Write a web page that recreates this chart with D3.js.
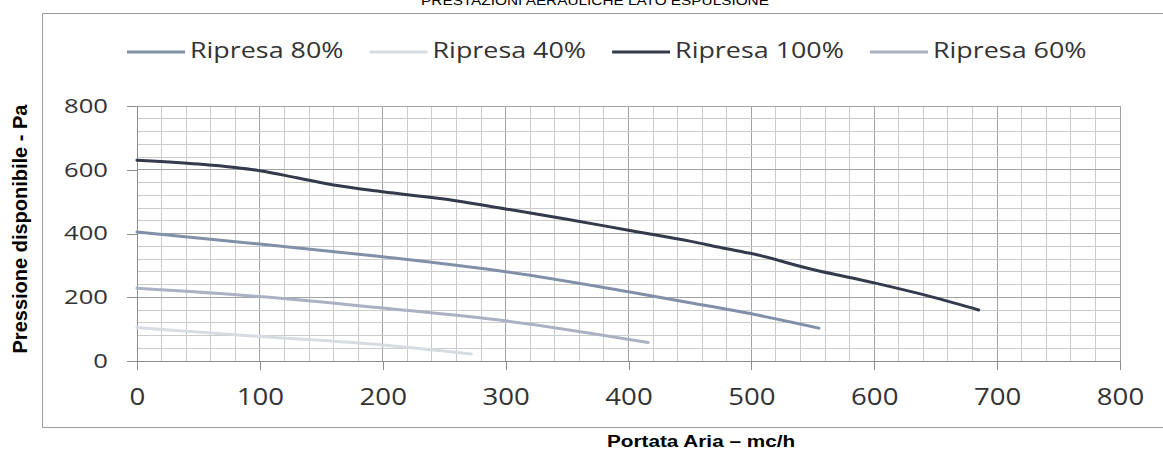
<!DOCTYPE html>
<html>
<head>
<meta charset="utf-8">
<script src="https://cdn.jsdelivr.net/npm/d3@7"></script>
<style>
  body { margin: 0; background: #fff; }
  svg { display: block; }
</style>
</head>
<body>
<svg id="chart"></svg>
<script>
// portata (mc/h) e pressione (Pa)
const flow100 = [0, 50, 80, 100, 130, 160, 200, 250, 300, 350, 400, 450, 480, 500, 550, 600, 650, 685];
const press100 = [630, 618, 607, 597, 575, 552, 531, 508, 477, 445, 410, 376, 352, 337, 287, 245, 198, 160];
const flow80 = [0, 100, 200, 300, 400, 450, 500, 555];
const press80 = [405, 367, 327, 280, 217, 183, 148, 103];
const flow60 = [0, 100, 200, 300, 416];
const press60 = [228, 202, 166, 126, 58];
const flow40 = [0, 100, 200, 272];
const press40 = [105, 77, 50, 22];

const legendOrder = ['Ripresa 80%', 'Ripresa 40%', 'Ripresa 100%', 'Ripresa 60%'];
const xTicks = [0, 100, 200, 300, 400, 500, 600, 700, 800];
const yTicks = [0, 200, 400, 600, 800];

const series = [
  {name: 'Ripresa 100%', color: '#323a4b', x: flow100, y: press100},
  {name: 'Ripresa 80%', color: '#8190a8', x: flow80, y: press80},
  {name: 'Ripresa 60%', color: '#a9b1c3', x: flow60, y: press60},
  {name: 'Ripresa 40%', color: '#d7dbe2', x: flow40, y: press40}
];

const width = 1163, height = 450;
const svg = d3.select('#chart').attr('width', width).attr('height', height);

const x = d3.scaleLinear().domain([0, 800]).range([137, 1120]);
const y = d3.scaleLinear().domain([0, 800]).range([361, 106]);

// the picture is stretched sideways, so text is too
const sx = 1.28;

// outer frame
svg.append('path')
  .attr('d', 'M1170,13.5 H42.5 V427.5 H1170')
  .attr('fill', 'none')
  .attr('stroke', '#9a9a9a');

// title, cut off at the top
svg.append('text')
  .attr('transform', `translate(595,5) scale(${sx},1)`)
  .attr('text-anchor', 'middle')
  .style('font-family', 'Liberation Sans, Arial')
  .style('font-size', '12px')
  .text('PRESTAZIONI AERAULICHE LATO ESPULSIONE');

// grid
const grid = svg.append('g').attr('shape-rendering', 'crispEdges');
grid.selectAll('.vmin').data(d3.range(0, 801, 20)).join('line')
  .attr('x1', d => x(d)).attr('x2', d => x(d))
  .attr('y1', y(0)).attr('y2', y(800))
  .attr('stroke', d => d % 100 === 0 ? '#a3a3a3' : '#cbcbcb');
grid.selectAll('.hmin').data(d3.range(0, 801, 40)).join('line')
  .attr('x1', x(0)).attr('x2', x(800))
  .attr('y1', d => y(d)).attr('y2', d => y(d))
  .attr('stroke', d => d % 200 === 0 ? '#a3a3a3' : '#cbcbcb');

// axes
const yAxis = svg.append('g')
  .attr('transform', `translate(${x(0)},0)`)
  .call(d3.axisLeft(y).tickValues(yTicks).tickSize(10).tickSizeOuter(0).tickPadding(19));
const xAxis = svg.append('g')
  .attr('transform', `translate(0,${y(0)})`)
  .call(d3.axisBottom(x).tickValues(xTicks).tickSize(9).tickSizeOuter(0).tickPadding(19));

[yAxis, xAxis].forEach(a => {
  a.select('.domain').attr('stroke', '#8c8c8c').attr('shape-rendering', 'crispEdges');
  a.selectAll('.tick line').attr('stroke', '#8c8c8c').attr('shape-rendering', 'crispEdges');
  a.selectAll('text').attr('fill', '#333')
    .style('font-family', 'Open Sans');
});
yAxis.selectAll('text')
  .style('font-size', '20px')
  .attr('x', -29 / sx)
  .attr('transform', `scale(${sx},1)`);
xAxis.selectAll('text')
  .style('font-size', '23px')
  .attr('transform', `scale(1.2,1)`);

// curves
const line = d3.line()
  .x(d => x(d[0]))
  .y(d => y(d[1]))
  .curve(d3.curveMonotoneX);

svg.selectAll('.serie').data(series).join('path')
  .attr('class', 'serie')
  .attr('fill', 'none')
  .attr('stroke', d => d.color)
  .attr('stroke-width', 3)
  .attr('stroke-linecap', 'round')
  .attr('d', d => line(d.x.map((v, i) => [v, d.y[i]])));

// legend
const legend = svg.append('g');
let lx = 127;
legendOrder.forEach(name => {
  const s = series.find(d => d.name === name);
  legend.append('line')
    .attr('x1', lx).attr('x2', lx + 58)
    .attr('y1', 52).attr('y2', 52)
    .attr('stroke', s.color)
    .attr('stroke-width', 3);
  const t = legend.append('text')
    .attr('transform', `translate(${lx + 63},58) scale(${sx},1)`)
    .attr('fill', '#333')
    .style('font-family', 'Open Sans')
    .style('font-size', '21px')
    .text(name);
  lx += 63 + t.node().getComputedTextLength() * sx + 26;
});

// axis titles
svg.append('text')
  .attr('transform', 'translate(27,229) rotate(-90)')
  .attr('text-anchor', 'middle')
  .style('font-family', 'Liberation Sans, Arial')
  .style('font-weight', 'bold')
  .style('font-size', '20px')
  .text('Pressione disponibile - Pa');

svg.append('text')
  .attr('transform', `translate(701,447) scale(1.22,1)`)
  .attr('text-anchor', 'middle')
  .style('font-family', 'Liberation Sans, Arial')
  .style('font-weight', 'bold')
  .style('font-size', '17px')
  .text('Portata Aria – mc/h');
</script>
</body>
</html>
